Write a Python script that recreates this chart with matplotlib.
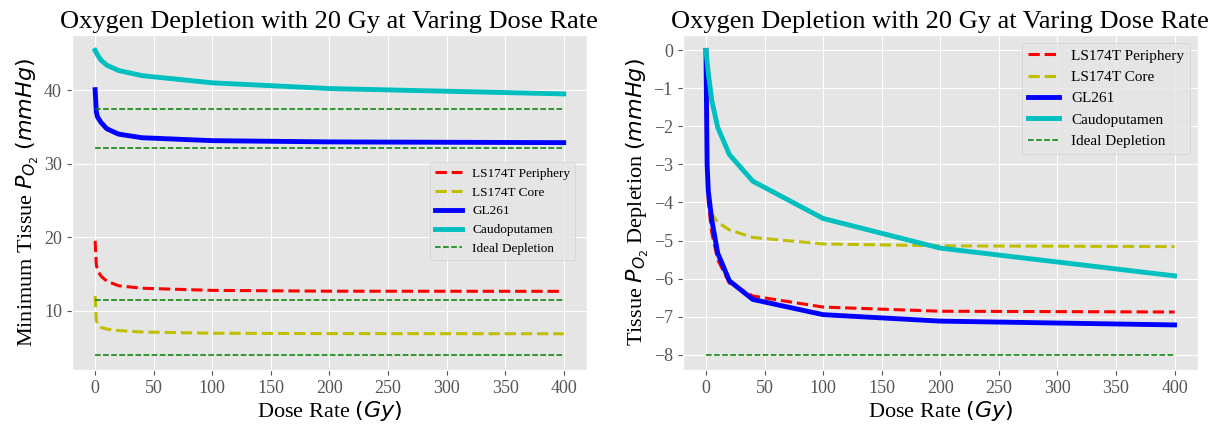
import numpy as np
import matplotlib
matplotlib.use("Agg")
from matplotlib import pyplot as plt

plt.style.use("ggplot")
plt.rcParams["font.family"] = ["Liberation Serif", "DejaVu Serif"]
plt.rcParams["mathtext.fontset"] = "dejavusans"

dose_rate = [0, 1, 2, 5, 10, 20, 40, 100, 200, 400]

names = ["LS174T Periphery", "LS174T Core", "GL261", "Caudoputamen"]
colors = ["r", "y", "b", "c"]
styles = ["--", "--", "-", "-"]
widths = [2.2, 2.2, 3.5, 3.5]

# tissue pO2 before irradiation (mmHg)
baseline = [19.5, 12.0, 40.1, 45.45]
ideal_depletion = -8.0

# pO2 drop for each tissue at each dose rate (mmHg)
depletion = {
    "LS174T Periphery": [0, -3.2, -4.0, -4.8, -5.5, -6.12, -6.46, -6.75, -6.86, -6.88],
    "LS174T Core":      [0, -3.3, -3.8, -4.3, -4.52, -4.72, -4.92, -5.09, -5.14, -5.16],
    "GL261":            [0, -3.0, -3.7, -4.46, -5.33, -6.06, -6.55, -6.95, -7.12, -7.22],
    "Caudoputamen":     [0, -0.3, -0.6, -1.32, -2.02, -2.74, -3.44, -4.42, -5.2, -5.93],
}

fig, (ax1, ax2) = plt.subplots(1, 2, figsize=(12.15, 4.29), dpi=100)
fig.subplots_adjust(left=0.059, right=0.986, bottom=0.138, top=0.918, wspace=0.185)

x = np.array(dose_rate)
for name, c, ls, lw, base in zip(names, colors, styles, widths, baseline):
    d = np.array(depletion[name])
    ax1.plot(x, base + d, ls, color=c, lw=lw, label=name)
    ax2.plot(x, d, ls, color=c, lw=lw, label=name)

for i, base in enumerate(baseline):
    ax1.plot([x[0], x[-1]], [base + ideal_depletion] * 2, "--", color="green", lw=1.1,
             label="Ideal Depletion" if i == 0 else None)
ax2.plot([x[0], x[-1]], [ideal_depletion] * 2, "--", color="green", lw=1.1, label="Ideal Depletion")

title = "Oxygen Depletion with 20 Gy at Varing Dose Rate"
for ax in (ax1, ax2):
    ax.set_title(title, fontsize=19, color="black", pad=5)
    ax.set_xlabel("Dose Rate $(Gy)$", fontsize=16, color="black", labelpad=2)
    ax.set_xticks(range(0, 401, 50))
    ax.tick_params(labelsize=13, colors="#555555")

ax1.set_ylabel("Minimum Tissue $P_{O_2}$ $(mmHg)$", fontsize=16, color="black", labelpad=2)
ax2.set_ylabel("Tissue $P_{O_2}$ Depletion $(mmHg)$", fontsize=16, color="black", labelpad=2)
ax2.set_yticks(range(-8, 1))

ax1.legend(loc="upper right", bbox_to_anchor=(0.99, 0.64), fontsize=9.5)
ax2.legend(loc="upper right", fontsize=11)

plt.savefig("out.png")
